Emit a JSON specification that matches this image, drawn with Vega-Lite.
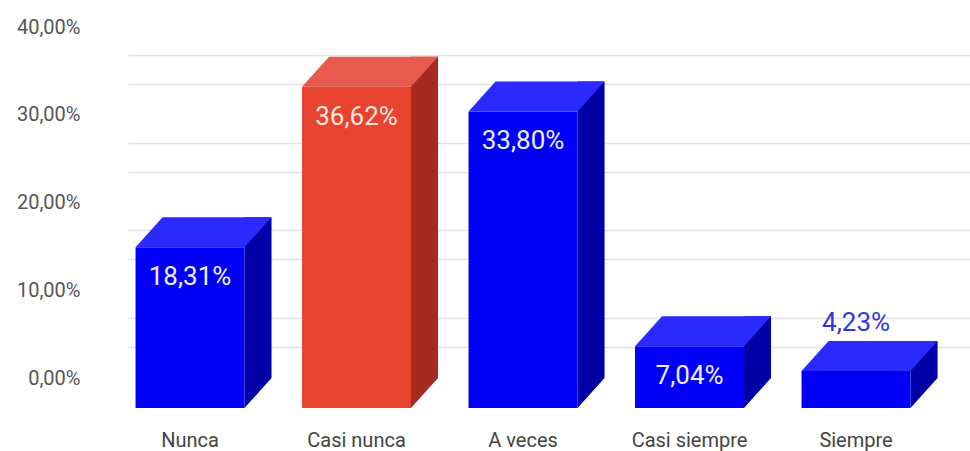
{
  "$schema": "https://vega.github.io/schema/vega-lite/v6.json",
  "width": 842,
  "height": 351,
  "autosize": "none",
  "padding": {"left": 128, "top": 57, "right": 0, "bottom": 43},
  "background": "#ffffff",
  "config": {"view": {"stroke": null}, "font": "Roboto"},
  "data": {
    "values": [
      {"cat": "Nunca", "value": 18.31},
      {"cat": "Casi nunca", "value": 36.62},
      {"cat": "A veces", "value": 33.80},
      {"cat": "Casi siempre", "value": 7.04},
      {"cat": "Siempre", "value": 4.23}
    ]
  },
  "transform": [
    {"calculate": "replace(format(datum.value, '.2f'), '.', ',') + '%'", "as": "label"}
  ],
  "encoding": {
    "x": {
      "field": "cat",
      "type": "nominal",
      "sort": null,
      "scale": {"type": "band", "paddingInner": 0.5, "paddingOuter": 0.2785, "align": 0.22},
      "axis": {
        "title": null,
        "labelAngle": 0,
        "domain": false,
        "ticks": false,
        "grid": false,
        "labelPadding": 22,
        "labelFont": "Roboto",
        "labelFontSize": 20,
        "labelColor": "#444444"
      }
    }
  },
  "resolve": {"axis": {"y": "independent"}, "scale": {"y": "shared"}},
  "layer": [
    {
      "mark": {"type": "bar", "width": 27, "xOffset": 68, "yOffset": -30, "y2Offset": 0},
      "encoding": {
        "y": {
          "field": "value",
          "type": "quantitative",
          "scale": {"domain": [0, 40], "nice": false},
          "axis": {
            "title": null,
            "values": [0, 10, 20, 30, 40],
            "domain": false,
            "ticks": false,
            "grid": true,
            "gridColor": "#e4e4e4",
            "gridWidth": 1.5,
            "tickOffset": -61,
            "labelOffset": 31,
            "labelPadding": 48,
            "labelFont": "Roboto",
            "labelFontSize": 20,
            "labelColor": "#555555",
            "labelExpr": "replace(format(datum.value, '.2f'), '.', ',') + '%'"
          }
        },
        "y2": {"datum": 0},
        "fill": {"condition": {"test": "datum.cat === 'Casi nunca'", "value": "#a52b20"}, "value": "#0000a6"}
      }
    },
    {
      "mark": {"type": "point", "shape": "M54.5,0L81.5,-30L84,-30L84,1.5L54.5,1.5Z", "size": 4, "filled": true, "fill": "#ffffff", "opacity": 1, "strokeWidth": 0},
      "encoding": {
        "y": {"datum": 0, "type": "quantitative", "axis": null}
      }
    },
    {
      "mark": {"type": "bar", "width": 109},
      "encoding": {
        "y": {
          "field": "value",
          "type": "quantitative",
          "axis": {
            "orient": "right",
            "title": null,
            "values": [0, 10, 20, 30, 40],
            "labels": false,
            "domain": false,
            "ticks": false,
            "grid": true,
            "gridColor": "#e4e4e4",
            "gridWidth": 1.5,
            "tickOffset": -90
          }
        },
        "y2": {"datum": 0},
        "fill": {"condition": {"test": "datum.cat === 'Casi nunca'", "value": "#e8432f"}, "value": "#0000f6"}
      }
    },
    {
      "mark": {"type": "point", "shape": "M-54.5,0L54.5,0L81.5,-30L-27.5,-30Z", "size": 4, "filled": true, "opacity": 1, "strokeWidth": 0},
      "encoding": {
        "y": {"field": "value", "type": "quantitative", "axis": null},
        "fill": {"condition": {"test": "datum.cat === 'Casi nunca'", "value": "#e85a4b"}, "value": "#2a2aff"}
      }
    },
    {
      "transform": [{"filter": "datum.value > 5"}],
      "mark": {"type": "text", "dy": 30, "baseline": "middle", "align": "center", "font": "Roboto", "fontSize": 26},
      "encoding": {
        "y": {"field": "value", "type": "quantitative", "axis": null},
        "text": {"field": "label", "type": "nominal"},
        "fill": {"condition": {"test": "datum.cat === 'Casi nunca'", "value": "#fde6de"}, "value": "#eeeeff"}
      }
    },
    {
      "transform": [{"filter": "datum.value <= 5"}],
      "mark": {"type": "text", "dy": -48, "baseline": "middle", "align": "center", "font": "Roboto", "fontSize": 26, "fill": "#3434d8"},
      "encoding": {
        "y": {"field": "value", "type": "quantitative", "axis": null},
        "text": {"field": "label", "type": "nominal"}
      }
    }
  ]
}
